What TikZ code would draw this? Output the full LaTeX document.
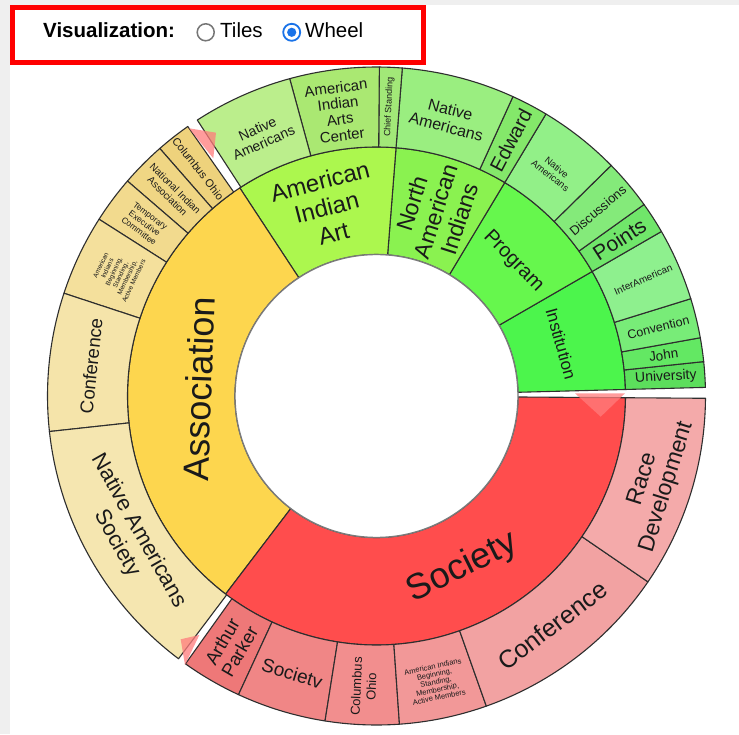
\documentclass[tikz,border=0pt]{standalone}
\usepackage{fontspec}
\setmainfont{Liberation Sans}
\newcommand{\fs}[2]{\fontsize{#1}{#2}\selectfont}
\newcommand{\wsector}[5]{\filldraw[sec,fill=#5] (#3:#1pt) arc[start angle=#3,end angle=#4,radius=#1pt] -- (#4:#2pt) arc[start angle=#4,end angle=#3,radius=#2pt] -- cycle;}
\definecolor{bggray}{HTML}{EFEFEF}
\definecolor{secline}{HTML}{2E2E2E}
\definecolor{holeline}{HTML}{7A7A7A}
\definecolor{txt}{HTML}{1A1A1A}
\definecolor{radiogray}{HTML}{767676}
\definecolor{radioblue}{HTML}{1A73E8}
\definecolor{tri}{HTML}{FF7C7C}
% inner ring
\definecolor{iInst}{HTML}{4CF54C}
\definecolor{iProg}{HTML}{66F74D}
\definecolor{iNAI}{HTML}{8AF250}
\definecolor{iAIA}{HTML}{ACF74E}
\definecolor{iAssoc}{HTML}{FDD64E}
\definecolor{iSoc}{HTML}{FF4D4D}
% outer green
\definecolor{gUniv}{HTML}{5CDE5C}
\definecolor{gJohn}{HTML}{63E863}
\definecolor{gConv}{HTML}{78EC78}
\definecolor{gInter}{HTML}{8EF08E}
\definecolor{gPoints}{HTML}{70E66A}
\definecolor{gDisc}{HTML}{84EA7A}
\definecolor{gNAa}{HTML}{92F088}
\definecolor{gEdw}{HTML}{84E86A}
\definecolor{gNAb}{HTML}{9AEE80}
\definecolor{gChief}{HTML}{A2E878}
\definecolor{gAIAC}{HTML}{AAE872}
\definecolor{gNAc}{HTML}{BBEE8C}
% outer yellow
\definecolor{yCol}{HTML}{EED27C}
\definecolor{yNIA}{HTML}{F0D684}
\definecolor{yTEC}{HTML}{F2DA8E}
\definecolor{yAI}{HTML}{F4E09C}
\definecolor{yConf}{HTML}{F5E4AA}
\definecolor{yNAS}{HTML}{F5E6B0}
% outer red
\definecolor{rArt}{HTML}{EE7878}
\definecolor{rSoc}{HTML}{F08686}
\definecolor{rCol}{HTML}{F28E8E}
\definecolor{rAI}{HTML}{F29898}
\definecolor{rConf}{HTML}{F2A2A2}
\definecolor{rRace}{HTML}{F4AAAA}
\begin{document}
\begin{tikzpicture}[x=1pt,y=1pt,
  sec/.style={draw=secline,line width=1.1pt,line join=round},
  lbl/.style={inner sep=0pt,align=center,text=txt},
  hdr/.style={inner sep=0pt,anchor=base west,text=black,font=\fs{20.5}{24}}]
\useasboundingbox (0,0) rectangle (739,734);
\fill[bggray] (0,0) rectangle (739,734);
\fill[white] (10,0) rectangle (739,729);
% ---------- header ----------
\draw[red,line width=5pt] (12.5,671.5) rectangle (423,726.5);
\node[hdr,font=\fs{20.5}{24}\bfseries] (vis) at (43,696) {Visualization:};
\node[circle,draw=radiogray,line width=1.5pt,fill=white,minimum size=17pt,inner sep=0pt] (rtiles) at (205.7,701.7) {};
\node[hdr] (tiles) at (220,696) {Tiles};
\node[circle,draw=radioblue,line width=1.8pt,fill=white,minimum size=17pt,inner sep=0pt] (rwheel) at (291.7,701.7) {};
\fill[radioblue] (rwheel.center) circle (4.6);
\node[hdr] (wheel) at (305,696) {Wheel};
% ---------- wheel ----------
\begin{scope}[shift={(376.5,338)}]
% inner ring
\wsector{141.5}{249}{1.5}{30}{iInst}
\wsector{141.5}{249}{30}{59}{iProg}
\wsector{141.5}{249}{59}{85.5}{iNAI}
\wsector{141.5}{249}{85.5}{123.3}{iAIA}
\wsector{141.5}{249}{123.3}{232.7}{iAssoc}
\wsector{141.5}{249}{232.7}{359.6}{iSoc}
% outer ring green
\wsector{249}{329}{1.5}{6}{gUniv}
\wsector{249}{329}{6}{10.2}{gJohn}
\wsector{249}{329}{10.2}{17.2}{gConv}
\wsector{249}{329}{17.2}{30}{gInter}
\wsector{249}{329}{30}{35.6}{gPoints}
\wsector{249}{329}{35.6}{44.5}{gDisc}
\wsector{249}{329}{44.5}{59}{gNAa}
\wsector{249}{329}{59}{65.5}{gEdw}
\wsector{249}{329}{65.5}{85.5}{gNAb}
\wsector{249}{329}{85.5}{89.5}{gChief}
\wsector{249}{329}{89.5}{105.3}{gAIAC}
\wsector{249}{329}{105.3}{123}{gNAc}
% outer ring yellow
\wsector{249}{329}{125}{131.2}{yCol}
\wsector{249}{329}{131.2}{139.2}{yNIA}
\wsector{249}{329}{139.2}{147.5}{yTEC}
\wsector{249}{329}{147.5}{161.8}{yAI}
\wsector{249}{329}{161.8}{186.2}{yConf}
\wsector{249}{329}{186.2}{233}{yNAS}
% outer ring red
\wsector{249}{329}{234.5}{245.2}{rArt}
\wsector{249}{329}{245.2}{261}{rSoc}
\wsector{249}{329}{261}{274}{rCol}
\wsector{249}{329}{274}{289.5}{rAI}
\wsector{249}{329}{289.5}{325.6}{rConf}
\wsector{249}{329}{325.6}{359.6}{rRace}
% hole
\filldraw[fill=white,draw=holeline,line width=1.4pt] (0,0) circle (141.5);
% inner labels
\node[lbl,rotate=88,font=\fs{36}{40}] (lAssoc) at (177.7:178pt) {Association};
\node[lbl,rotate=26.5,font=\fs{36}{40}] (lSoc) at (296.6:192pt) {Society};
\node[lbl,rotate=14.5,font=\fs{24}{27}] (lAIA) at (104.8:195pt) {American\\Indian\\Art};
\node[lbl,rotate=72.25,font=\fs{23}{25}] (lNAI) at (72.25:194pt) {North\\American\\Indians};
\node[lbl,rotate=-45.5,font=\fs{20}{22}] (lProg) at (44.5:192pt) {Program};
\node[lbl,rotate=-74.2,font=\fs{17}{19}] (lInst) at (15.8:192pt) {Institution};
% outer labels green
\node[lbl,rotate=24,font=\fs{14}{15.5}] (lNAc) at (114:285pt) {Native\\Americans};
\node[lbl,rotate=7.5,font=\fs{15}{16}] (lAIAC) at (97.5:287pt) {American\\Indian\\Arts\\Center};
\node[lbl,rotate=87.5,font=\fs{9}{11}] (lChief) at (87.5:289pt) {Chief Standing};
\node[lbl,rotate=-14.5,font=\fs{16}{17.5}] (lNAb) at (75.5:287pt) {Native\\Americans};
\node[lbl,rotate=62.3,font=\fs{20}{22}] (lEdw) at (62.3:289pt) {Edward};
\node[lbl,rotate=-38.25,font=\fs{9.5}{10.5}] (lNAa) at (51.75:286pt) {Native\\Americans};
\node[lbl,rotate=40,font=\fs{13}{15}] (lDisc) at (40:289pt) {Discussions};
\node[lbl,rotate=32.8,font=\fs{21}{23}] (lPoints) at (32.8:289pt) {Points};
\node[lbl,rotate=23.6,font=\fs{10}{12}] (lInter) at (23.6:291pt) {InterAmerican};
\node[lbl,rotate=13.7,font=\fs{12.5}{14}] (lConv) at (13.7:290pt) {Convention};
\node[lbl,rotate=8.1,font=\fs{13.5}{15}] (lJohn) at (8.1:290pt) {John};
\node[lbl,rotate=3.75,font=\fs{14}{15}] (lUniv) at (3.75:290pt) {University};
% outer labels yellow
\node[lbl,rotate=-51.9,font=\fs{11}{12}] (lYCol) at (128.1:289pt) {Columbus Ohio};
\node[lbl,rotate=-44.8,font=\fs{10}{11}] (lNIA) at (135.2:289pt) {National Indian\\Association};
\node[lbl,rotate=-36.65,font=\fs{8.5}{9.5}] (lTEC) at (143.35:289pt) {Temporary\\Executive\\Committee};
\node[lbl,rotate=64.65,font=\fs{6.5}{7.3}] (lYAI) at (154.65:287pt) {American\\Indians\\Beginning,\\Standing,\\Membership,\\Active Members};
\node[lbl,rotate=84,font=\fs{18.5}{20}] (lYConf) at (174:287pt) {Conference};
\node[lbl,rotate=-60.4,font=\fs{22}{25}] (lNAS) at (209.6:286pt) {Native Americans\\Society};
% outer labels red
\node[lbl,rotate=59.85,font=\fs{18.5}{20}] (lArt) at (239.85:290pt) {Arthur\\Parker};
\node[lbl,rotate=-16.9,font=\fs{19}{21}] (lRSoc) at (253.1:290pt) {Societv};
\node[lbl,rotate=87.5,font=\fs{13}{15}] (lRCol) at (267.5:291pt) {Columbus\\Ohio};
\node[lbl,rotate=11.75,font=\fs{7.5}{7.8}] (lRAI) at (281.75:292pt) {American Indians\\Beginning,\\Standing,\\Membership,\\Active Members};
\node[lbl,rotate=37.5,font=\fs{25}{27}] (lRConf) at (307.5:289pt) {Conference};
\node[lbl,rotate=72.6,font=\fs{23}{25}] (lRace) at (342.6:292pt) {Race\\Development};
\end{scope}
% indicator triangles
\fill[tri,opacity=0.75] (575,340.7) -- (625,340.7) -- (600.7,317.3) -- cycle;
\fill[tri,opacity=0.75] (189,605.7) -- (216,601.3) -- (213.3,575.7) -- cycle;
\fill[tri,opacity=0.75] (180.7,94.7) -- (199.3,99) -- (185,69) -- cycle;
\end{tikzpicture}
\end{document}
